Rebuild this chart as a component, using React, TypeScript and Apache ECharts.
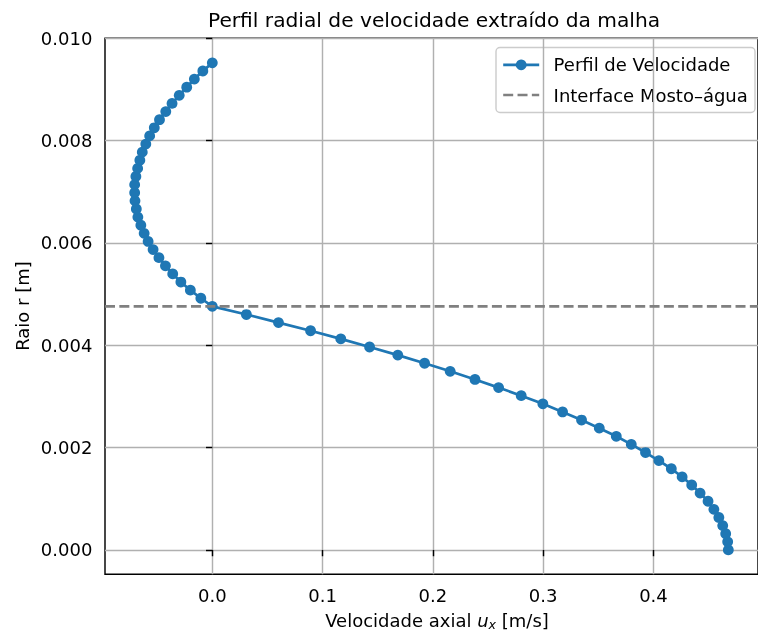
import React, { useEffect, useRef } from "react";
import * as echarts from "echarts";

// Radial positions r [m] (uniform mesh)
const radius: number[] = [
  0, 0.000159, 0.000317, 0.000476, 0.000635, 0.000793, 0.000952, 0.001111, 0.001269, 0.001428,
  0.001587, 0.001745, 0.001904, 0.002063, 0.002221, 0.00238, 0.002539, 0.002697, 0.002856, 0.003015,
  0.003173, 0.003332, 0.003491, 0.003649, 0.003808, 0.003967, 0.004125, 0.004284, 0.004443, 0.004601,
  0.00476, 0.004919, 0.005077, 0.005236, 0.005395, 0.005553, 0.005712, 0.005871, 0.006029, 0.006188,
  0.006347, 0.006505, 0.006664, 0.006823, 0.006981, 0.00714, 0.007299, 0.007457, 0.007616, 0.007775,
  0.007933, 0.008092, 0.008251, 0.008409, 0.008568, 0.008727, 0.008885, 0.009044, 0.009203, 0.009361,
  0.00952,
];

// Axial velocity u_x [m/s]
const velocity: number[] = [
  0.4679, 0.4673, 0.4655, 0.4628, 0.4593, 0.4548, 0.4495, 0.4423, 0.4347, 0.426,
  0.4162, 0.4049, 0.3928, 0.3799, 0.3663, 0.3509, 0.3348, 0.3176, 0.2997, 0.2801,
  0.2596, 0.2382, 0.2157, 0.1925, 0.1682, 0.1426, 0.1165, 0.0891, 0.06, 0.0309,
  0.0, -0.0104, -0.0199, -0.0285, -0.0359, -0.0425, -0.0484, -0.0537, -0.0582, -0.0618,
  -0.0648, -0.0675, -0.0689, -0.0701, -0.0704, -0.0704, -0.0693, -0.0677, -0.0657, -0.0635,
  -0.0603, -0.0568, -0.0526, -0.0479, -0.0422, -0.0365, -0.03, -0.0232, -0.0163, -0.0086,
  0.0,
];

const interfaceRadius = 0.00476;

const xTicks: number[] = [0, 0.1, 0.2, 0.3, 0.4];
const yTicks: number[] = [0, 0.002, 0.004, 0.006, 0.008, 0.01];

const xLimits: [number, number] = [-0.0973, 0.4948];
const yLimits: [number, number] = [-0.000476, 0.01];

const seriesNames = ["Perfil de Velocidade", "Interface Mosto–água"];
const titleText = "Perfil radial de velocidade extraído da malha";
const yLabelText = "Raio r [m]";

const BLUE = "#1f77b4";
const GRAY = "#808080";

export default function App() {
  const ref = useRef<HTMLDivElement>(null);

  useEffect(() => {
    if (!ref.current) return;
    const chart = echarts.init(ref.current, undefined, { renderer: "svg" });
    const font = "DejaVu Sans";
    const fs = 18;
    const gridLeft = 105;
    const gridTop = 38.3;
    const gridW = 664.3;
    const gridH = 536;
    const lw = 1.44;

    const profile = velocity.map((u, i) => [u, radius[i]]);
    const iface = [
      [xLimits[0], interfaceRadius],
      [xLimits[1], interfaceRadius],
    ];

    // legend box geometry (manually drawn, matplotlib-like)
    const lgX = 496, lgY = 47.5, lgW = 259, lgH = 65;
    const row1 = 64.9, row2 = 95;
    const hx0 = 503.2, hx1 = 539.2, tx = 553.6;

    const option: any = {
      animation: false,
      textStyle: { fontFamily: font },
      grid: {
        left: gridLeft,
        top: gridTop,
        width: gridW,
        height: gridH,
        show: true,
        borderColor: "#000",
        borderWidth: lw,
        backgroundColor: "transparent",
        containLabel: false,
      },
      xAxis: {
        type: "value",
        min: xLimits[0],
        max: xLimits[1],
        axisLine: { show: false },
        axisTick: {
          show: true,
          customValues: xTicks,
          length: 6.3,
          lineStyle: { color: "#000", width: lw },
        },
        axisLabel: {
          customValues: xTicks,
          formatter: (v: number) => v.toFixed(1),
          margin: 12.6,
          color: "#000",
          fontSize: fs,
          fontFamily: font,
        },
        splitLine: { show: true, lineStyle: { color: "#b0b0b0", width: lw } },
      },
      yAxis: {
        type: "value",
        min: yLimits[0],
        max: yLimits[1],
        axisLine: { show: false },
        axisTick: {
          show: true,
          customValues: yTicks,
          length: 6.3,
          lineStyle: { color: "#000", width: lw },
        },
        axisLabel: {
          customValues: yTicks,
          formatter: (v: number) => v.toFixed(3),
          margin: 12.6,
          color: "#000",
          fontSize: fs,
          fontFamily: font,
        },
        splitLine: { show: true, lineStyle: { color: "#b0b0b0", width: lw } },
      },
      series: [
        {
          name: seriesNames[0],
          type: "line",
          data: profile,
          symbol: "circle",
          symbolSize: 10.8,
          showAllSymbol: true,
          lineStyle: { color: BLUE, width: 2.7 },
          itemStyle: { color: BLUE },
          z: 3,
        },
        {
          name: seriesNames[1],
          type: "line",
          data: iface,
          symbol: "none",
          lineStyle: { color: GRAY, width: 2.7, type: [10, 4.33] },
          itemStyle: { color: GRAY },
          z: 4,
        },
      ],
      graphic: [
        {
          type: "text",
          x: 434,
          y: 20,
          style: {
            text: titleText,
            fontSize: 20.2,
            fontFamily: font,
            fill: "#000",
            align: "center",
            verticalAlign: "middle",
          },
        },
        {
          type: "text",
          x: 22,
          y: 306,
          rotation: Math.PI / 2,
          style: {
            text: yLabelText,
            fontSize: fs,
            fontFamily: font,
            fill: "#000",
            align: "center",
            verticalAlign: "middle",
          },
        },
        {
          type: "text",
          x: 437,
          y: 620,
          style: {
            text: "{a|Velocidade axial }{i|u}{s|x}{a| [m/s]}",
            align: "center",
            verticalAlign: "middle",
            rich: {
              a: { fontSize: fs, fontFamily: font, color: "#000", lineHeight: 21, verticalAlign: "middle" },
              i: { fontSize: fs, fontFamily: font, fontStyle: "italic", color: "#000", lineHeight: 21, verticalAlign: "middle" },
              s: { fontSize: 12.6, fontFamily: font, fontStyle: "italic", color: "#000", lineHeight: 13, verticalAlign: "bottom" },
            },
          },
        },
        {
          type: "group",
          z: 100,
          children: [
            {
              type: "rect",
              shape: { x: lgX, y: lgY, width: lgW, height: lgH, r: 4 },
              style: { fill: "rgba(255,255,255,0.8)", stroke: "#cccccc", lineWidth: lw },
            },
            {
              type: "line",
              shape: { x1: hx0, y1: row1, x2: hx1, y2: row1 },
              style: { stroke: BLUE, lineWidth: 2.7 },
            },
            {
              type: "circle",
              shape: { cx: (hx0 + hx1) / 2, cy: row1, r: 5.4 },
              style: { fill: BLUE },
            },
            {
              type: "text",
              x: tx,
              y: row1,
              style: {
                text: seriesNames[0],
                fontSize: fs,
                fontFamily: font,
                fill: "#000",
                align: "left",
                verticalAlign: "middle",
              },
            },
            {
              type: "line",
              shape: { x1: hx0, y1: row2, x2: hx1, y2: row2 },
              style: { stroke: GRAY, lineWidth: 2.7, lineDash: [10, 4.33] },
            },
            {
              type: "text",
              x: tx,
              y: row2,
              style: {
                text: seriesNames[1],
                fontSize: fs,
                fontFamily: font,
                fill: "#000",
                align: "left",
                verticalAlign: "middle",
              },
            },
          ],
        },
      ],
    };

    chart.setOption(option);
    return () => chart.dispose();
  }, []);

  return (
    <div
      ref={ref}
      style={{ position: "fixed", left: 0, top: 0, width: 758, height: 634, overflow: "hidden" }}
    />
  );
}
